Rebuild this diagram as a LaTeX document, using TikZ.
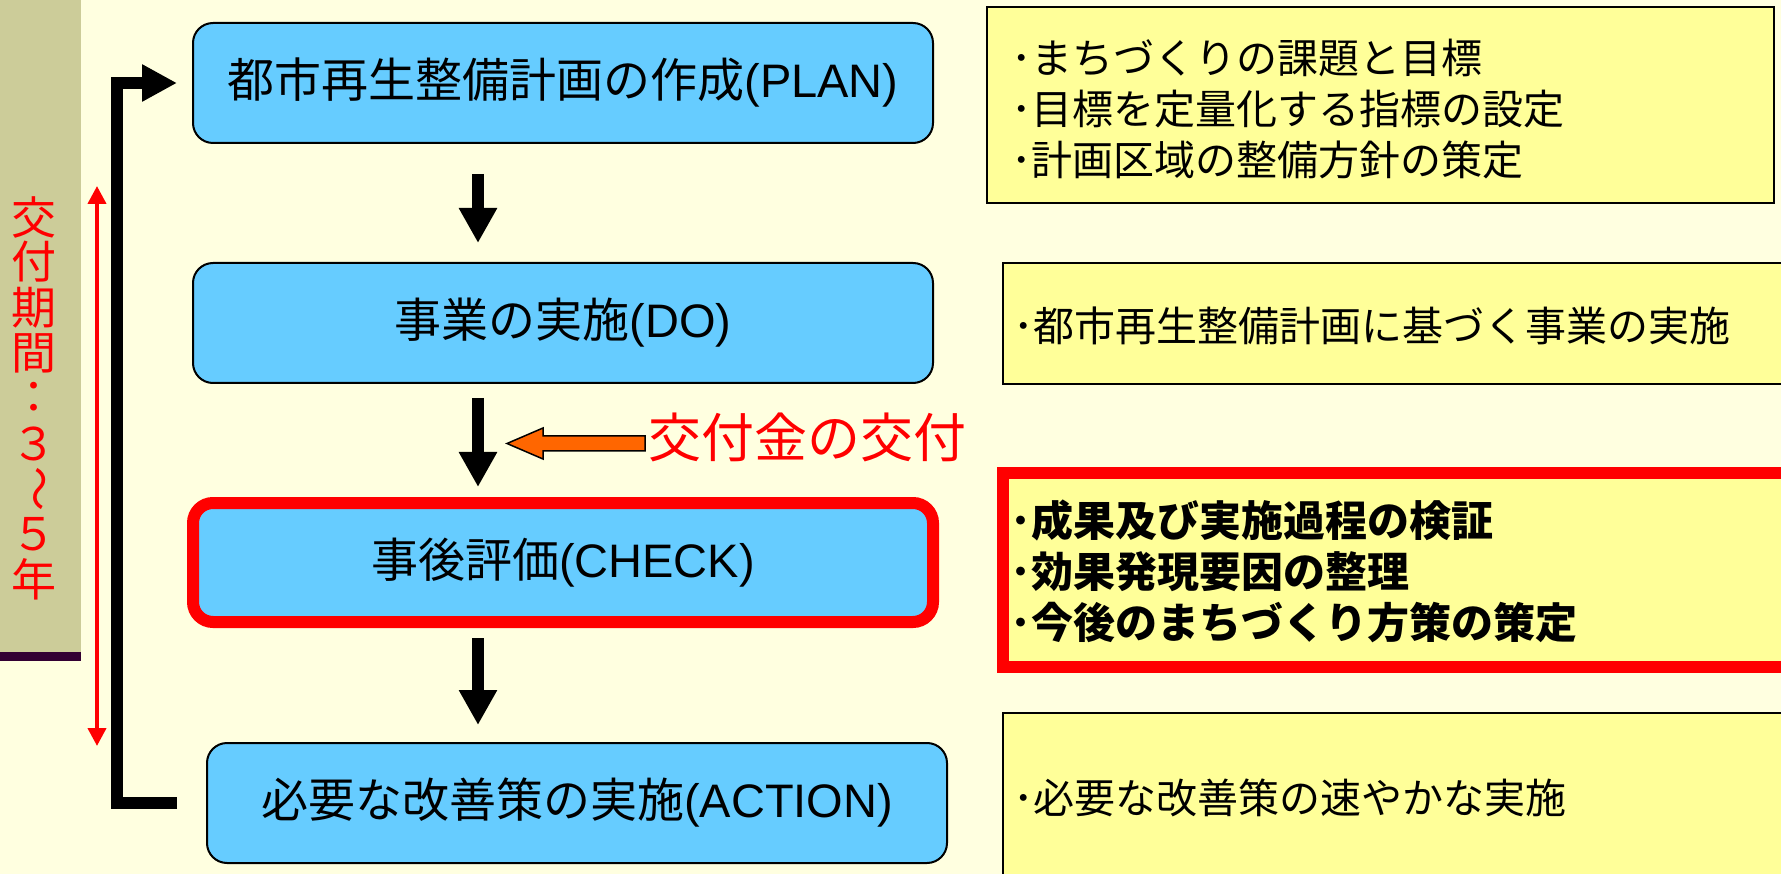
\documentclass[tikz,border=0pt]{standalone}
\usepackage{fontspec}
\setmainfont{Liberation Sans}
\newfontfamily\cjk{Noto Sans CJK JP}
\usetikzlibrary{arrows.meta,calc}
\definecolor{bg}{RGB}{255,255,224}
\definecolor{tanpanel}{RGB}{204,204,153}
\definecolor{plum}{RGB}{51,0,51}
\definecolor{sky}{RGB}{102,204,255}
\definecolor{lemon}{RGB}{255,255,153}
\definecolor{orng}{RGB}{255,102,0}
\definecolor{rd}{RGB}{255,0,0}
\begin{document}
\begin{tikzpicture}[x=1pt,y=-1pt,
  stepbox/.style={draw=black,line width=2pt,fill=sky,rounded corners=20pt,inner sep=0pt,
    minimum width=740pt,minimum height=120pt,font=\fontsize{47}{56}\selectfont},
  checkbox/.style={stepbox,draw=rd,line width=12pt,minimum height=119pt},
  notebox/.style={draw=black,line width=2pt,fill=lemon,inner sep=0pt},
  rednote/.style={draw=rd,line width=12pt,fill=lemon,inner sep=0pt},
  notetext/.style={anchor=west,inner sep=0pt,align=left,font=\cjk\fontsize{41}{51}\selectfont},
  downarrow/.style={line width=12pt,-{Triangle[width=36pt,length=35pt]}},
  vchar/.style={text=rd,inner sep=0pt,font=\cjk\fontsize{45}{45}\selectfont}
]
\useasboundingbox (0,0) rectangle (1781,874);
\clip (0,0) rectangle (1781,874);
\fill[bg] (0,0) rectangle (1781,874);
% left panel
\fill[tanpanel] (0,0) rectangle (81,652);
\fill[plum] (0,652) rectangle (81,661);
% vertical label
\node[vchar] (v1) at (34,217) {交};
\node[vchar] (v2) at (34,262) {付};
\node[vchar] (v3) at (34,308) {期};
\node[vchar] (v4) at (34,353) {間};
\node[vchar] (v5) at (34,398) {：};
\node[vchar] (v6) at (34,444) {３};
\node[vchar,rotate=-90] (v7) at (34,489) {～};
\node[vchar] (v8) at (34,534) {５};
\node[vchar] (v9) at (34,579) {年};
% red period arrow
\coordinate (rtop) at (97,186);
\coordinate (rbot) at (97,746);
\draw[rd,line width=4pt,{Triangle[width=18pt,length=18pt]}-{Triangle[width=18pt,length=18pt]}] (rtop) -- (rbot);
% main boxes
\node[stepbox] (plan) at (563,83) {\cjk 都市再生整備計画の作成\rmfamily(PLAN)};
\node[stepbox] (do) at (563,323) {\cjk 事業の実施\rmfamily(DO)};
\node[checkbox] (check) at (563,562.5) {\cjk 事後評価\rmfamily(CHECK)};
\node[stepbox] (action) at (577,803) {\cjk 必要な改善策の実施\rmfamily(ACTION)};
% down arrows
\coordinate (ax) at (478,0);
\draw[downarrow] ($(plan.south -| ax)+(0,30)$) -- ($(do.north -| ax)+(0,-19)$);
\draw[downarrow] ($(do.south -| ax)+(0,14)$) -- ($(check.north -| ax)+(0,-10)$);
\draw[downarrow] ($(check.south -| ax)+(0,10)$) -- ($(action.north -| ax)+(0,-17)$);
% feedback bracket
\draw[line width=12pt,-{Triangle[width=35pt,length=35pt]}] ($(action.west)+(-29,0)$) -- ++(-60,0) |- ($(plan.west)+(-15,0)$);
% grant label and orange arrow
\node[anchor=west,inner sep=0pt,text=rd,font=\cjk\fontsize{53}{60}\selectfont] (kofu) at (648,437) {交付金の交付};
\draw[fill=orng,line width=1.5pt] (507,443.5) -- (543,428) -- (543,436) -- (645,436) -- (645,451) -- (543,451) -- (543,459) -- cycle;
% right note boxes
\node[notebox,minimum width=787pt,minimum height=196pt] (n1) at (1380.5,105) {};
\node[notebox,minimum width=797pt,minimum height=121pt] (n2) at (1401.5,323.5) {};
\node[rednote,minimum width=797pt,minimum height=194pt] (n3) at (1401.5,570) {};
\node[notebox,minimum width=797pt,minimum height=187pt] (n4) at (1401.5,806.5) {};
\node[notetext] (t1) at (1011,109) {･まちづくりの課題と目標\\･目標を定量化する指標の設定\\･計画区域の整備方針の策定};
\node[notetext] (t2) at (1013,326) {･都市再生整備計画に基づく事業の実施};
\node[notetext,font=\cjk\bfseries\fontsize{42}{51}\selectfont] (t3) at (1010,571) {･成果及び実施過程の検証\\･効果発現要因の整理\\･今後のまちづくり方策の策定};
\node[notetext] (t4) at (1013,798) {･必要な改善策の速やかな実施};
\end{tikzpicture}
\end{document}
